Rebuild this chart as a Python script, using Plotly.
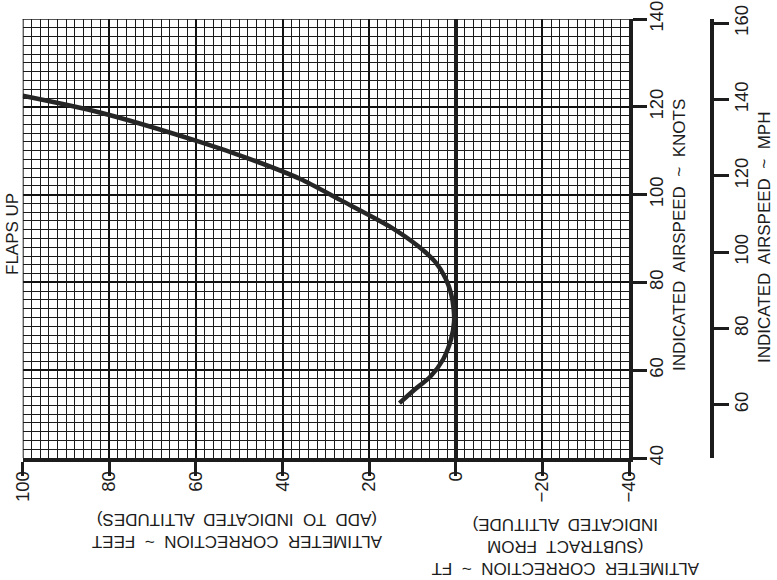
import plotly.graph_objects as go

# Data (altimeter correction in feet vs indicated airspeed in knots)
correction_ft = [100, 82.2, 59.1, 47.5, 36.0, 26.7, 15.2, 8.5, 4.6, 2.4, 1.1, 0.5, 0.4, 1.1, 2.9, 5.9, 9.6, 13.0]
airspeed_kts = [122.5, 118.7, 112.0, 108.1, 103.6, 98.8, 92.7, 88.1, 84.5, 81.0, 77.5, 74.0, 71.0, 67.0, 62.5, 58.5, 55.5, 52.5]

x_ticks = [100, 80, 60, 40, 20, 0, -20, -40]
knot_ticks = [40, 60, 80, 100, 120, 140]
mph_ticks = [60, 80, 100, 120, 140, 160]
KT_TO_MPH = 1.15078

W, H = 777, 580
FONT = "Liberation Sans, Arial, Helvetica, sans-serif"
INK = "#1c1c1c"
TICKFONT = dict(family=FONT, size=18.5, color=INK)

def px(x):
    return x / W

def py(y):
    return 1 - y / H

fig = go.Figure()
fig.add_trace(go.Scatter(
    x=correction_ft, y=airspeed_kts, mode="lines",
    line=dict(color="#262626", width=4.5, shape="spline", smoothing=0.8),
    hoverinfo="skip", showlegend=False,
))
# invisible trace to activate the MPH axis
fig.add_trace(go.Scatter(x=[None], y=[None], yaxis="y2", showlegend=False))

fig.update_layout(
    width=W, height=H,
    margin=dict(l=0, r=0, t=0, b=0),
    paper_bgcolor="white", plot_bgcolor="white",
    font=dict(family=FONT, size=17, color=INK),
    xaxis=dict(
        domain=[px(22.7), px(629)], range=[100, -40],
        tickvals=x_ticks, ticktext=[str(v) if v >= 0 else "\u2212" + str(-v) for v in x_ticks],
        tickangle=-90, ticks="outside", ticklen=14, tickwidth=3, tickcolor=INK,
        tickfont=TICKFONT,
        showgrid=True, gridcolor="#111", gridwidth=1.7,
        minor=dict(dtick=2, tick0=0, showgrid=True, gridcolor="#1a1a1a", gridwidth=1.1, ticks=""),
        zeroline=True, zerolinecolor=INK, zerolinewidth=3.5,
        showline=True, linecolor=INK, linewidth=3.5,
        automargin=False, fixedrange=True, ticklabelstandoff=-12,
    ),
    yaxis=dict(
        domain=[py(458), py(19)], range=[40, 140], side="right",
        tickvals=knot_ticks, tickangle=-90,
        ticks="outside", ticklen=14, tickwidth=3, tickcolor=INK,
        tickfont=TICKFONT,
        showgrid=True, gridcolor="#111", gridwidth=1.7,
        minor=dict(dtick=2, tick0=0, showgrid=True, gridcolor="#1a1a1a", gridwidth=1.1, ticks=""),
        zeroline=False,
        showline=True, linecolor=INK, linewidth=3.5,
        automargin=False, fixedrange=True, ticklabelstandoff=-6,
    ),
    yaxis2=dict(
        overlaying="y", anchor="free", position=px(712), side="right",
        range=[40 * KT_TO_MPH, 140 * KT_TO_MPH],
        tickvals=mph_ticks, tickangle=-90,
        ticks="outside", ticklen=15, tickwidth=3, tickcolor=INK,
        tickfont=TICKFONT,
        showgrid=False, zeroline=False,
        showline=True, linecolor=INK, linewidth=3.5,
        automargin=False, fixedrange=True, ticklabelstandoff=-3,
    ),
)

# left and top borders of the grid
fig.add_shape(type="line", xref="x", yref="paper", x0=100, x1=100, y0=py(458), y1=py(19),
              line=dict(color=INK, width=2))
fig.add_shape(type="line", xref="paper", yref="y", x0=px(22.7), x1=px(629), y0=140, y1=140,
              line=dict(color=INK, width=1.5))

def ann(text, x, y, angle):
    fig.add_annotation(text=text, xref="paper", yref="paper", x=px(x), y=py(y),
                       xanchor="center", yanchor="middle", showarrow=False,
                       textangle=angle, font=dict(family=FONT, size=17, color=INK))

ann("FLAPS UP", 12, 234, -90)
ann("INDICATED  AIRSPEED  ~  KNOTS", 679, 235, -90)
ann("INDICATED  AIRSPEED  ~  MPH", 764, 238, -90)
ann("ALTIMETER  CORRECTION  ~  FEET<br>(ADD  TO  INDICATED  ALTITUDES)", 237, 531, 180)
ann("ALTIMETER  CORRECTION  ~  FT<br>(SUBTRACT  FROM<br>INDICATED  ALTITUDE)", 566, 547, 180)

fig.write_html("out.html")
